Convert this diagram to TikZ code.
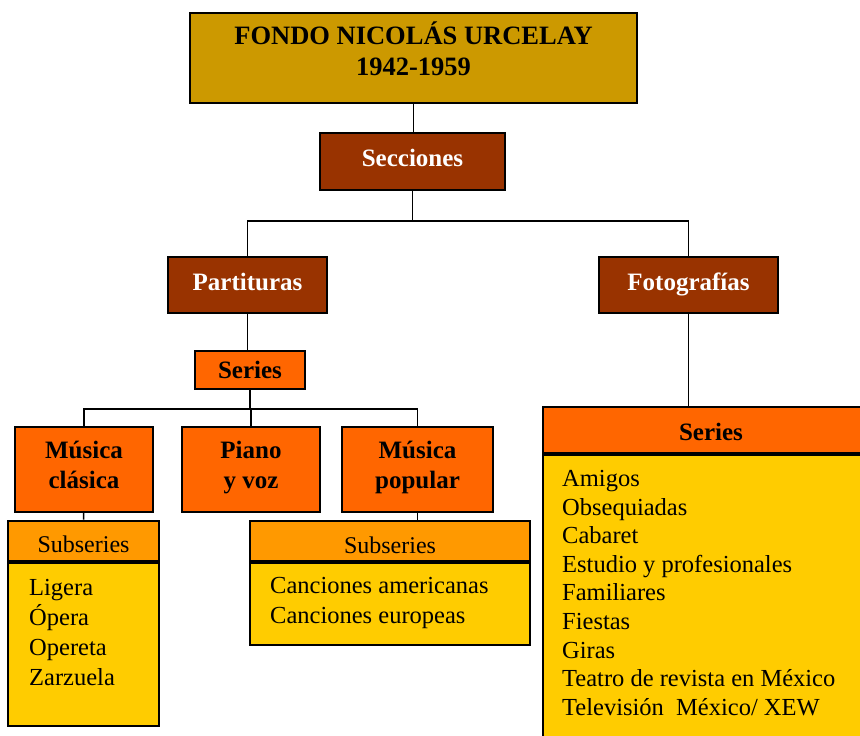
\documentclass[tikz,border=0pt]{standalone}
\usepackage{fontspec}
\setmainfont{Liberation Serif}
\usepackage{tikz}
\usetikzlibrary{positioning}

\definecolor{gold}{HTML}{CC9900}
\definecolor{rust}{HTML}{993300}
\definecolor{deeporange}{HTML}{FF6600}
\definecolor{lightorange}{HTML}{FF9900}
\definecolor{amber}{HTML}{FFCC00}

\begin{document}
\begin{tikzpicture}[
    x=1pt, y=-1pt,
    box/.style = {rectangle, draw=black, line width=2pt, inner sep=0pt,
                  minimum width=#1, align=center, font=\fontsize{25}{30}\selectfont\bfseries},
    box/.default = 100pt
    ]
            % styles
            \tikzstyle{conn} = [line width=1.6pt, draw=black]
            \tikzstyle{sect} = [fill=rust, text=white, minimum height=57pt, text depth=7pt]
            \tikzstyle{serie} = [fill=deeporange, minimum height=85pt, text depth=10pt]
            \tikzstyle{sub} = [fill=lightorange, minimum height=40pt, text height=25pt,
                               font=\fontsize{24}{28}\selectfont]
            \tikzstyle{body} = [fill=amber, anchor=north]
            \tikzstyle{list} = [anchor=north west, align=left, inner sep=0pt,
                                font=\fontsize{24.5}{30}\selectfont]

            \useasboundingbox (0,0) rectangle (860,736);
            \clip (0,0) rectangle (860,736);

            \node (fondo) at (413.5,58) [box=447pt, fill=gold, minimum height=90pt, text depth=18pt,
                  font=\fontsize{26.5}{31}\selectfont\bfseries]
                  {FONDO NICOLÁS URCELAY\\1942-1959};
            \node (secc) at (412.5,161.5) [box=185pt, sect] {Secciones};
            \node (part) at (247.5,285) [box=159pt, sect, minimum height=56pt] {Partituras};
            \node (foto) at (688.5,285) [box=179pt, sect, minimum height=56pt] {Fotografías};
            \node (series) at (250,370) [box=110pt, fill=deeporange, minimum height=38pt] {\raisebox{-6pt}{Series}};

            \node (clasica) at (84,469.5) [box=138pt, serie] {Música\\clásica};
            \node (piano) [box=138pt, serie, right=27pt of clasica] {Piano\\y voz};
            \node (popular) [box=151pt, serie, right=20pt of piano] {Música\\popular};

            % subseries
            \node (subcla) at (83.5,540.5) [box=151pt, sub] {Subseries};
            \node (bodycla) [box=151pt, body, minimum height=163pt, below=0pt of subcla] {};
            \node (listcla) [list] at ([shift={(22,18)}]bodycla.north west)
                  {Ligera\\Ópera\\Opereta\\Zarzuela};

            \node (subpop) at (390,541) [box=280pt, sub] {Subseries};
            \node (bodypop) [box=280pt, body, minimum height=82pt, below=0pt of subpop] {};
            \node (listpop) [list] at ([shift={(21,15)}]bodypop.north west)
                  {Canciones americanas\\Canciones europeas};

            \node (serfoto) at (711,430) [box=336pt, fill=deeporange, minimum height=46pt, text height=22pt] {Series};
            \node (bodyfoto) [box=336pt, body, minimum height=320pt, below=0pt of serfoto] {};
            \node (listfoto) [list, font=\fontsize{24.5}{28.6}\selectfont]
                  at ([shift={(20,16)}]bodyfoto.north west)
                  {Amigos\\Obsequiadas\\Cabaret\\Estudio y profesionales\\Familiares\\Fiestas\\Giras\\Teatro de revista en México\\Televisión~ México/ XEW};

            \draw [conn] (fondo) -- (fondo |- secc.north);
            \draw [conn] (secc.south) -- ++(0,30) -| (part.north);
            \draw [conn] (secc.south) -- ++(0,30) -| (foto.north);
            \draw [conn] (part) -- (part |- series.north);
            \draw [conn] (foto) -- (foto |- serfoto.north);
            \draw [conn] (series.south) -- ++(0,19) -| (clasica.north);
            \draw [conn] (series.south) -- ++(0,19) -| (popular.north);
            \draw [conn] (series.south) -- ++(0,19) -| (piano.north);
            \draw [conn] (clasica) -- (subcla);
            \draw [conn] (popular) -- (popular |- subpop.north);
    \end{tikzpicture}
\end{document}
